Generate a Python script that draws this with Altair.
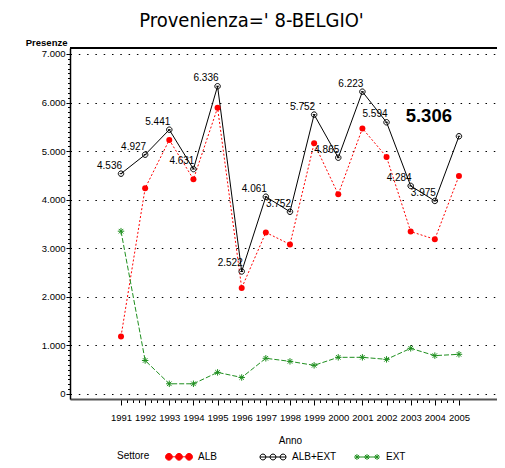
import altair as alt
import pandas as pd

# ---- data ----
years = list(range(1991, 2006))
alb = [1184, 4237, 5231, 4421, 5891, 2182, 3326, 3080, 5162, 4110, 5468, 4881, 3344, 3185, 4489]
alb_ext = [4536, 4927, 5441, 4631, 6336, 2522, 4061, 3752, 5752, 4865, 6223, 5594, 4284, 3975, 5306]
ext = [3352, 690, 210, 210, 445, 340, 735, 672, 590, 755, 755, 713, 940, 790, 817]
series_names = ["ALB", "ALB+EXT", "EXT"]
series_colors = ["#ff0000", "#000000", "#1f8f1f"]

rows = []
for name, vals in zip(series_names, [alb, alb_ext, ext]):
    for yr, v in zip(years, vals):
        rows.append({"Anno": yr, "Presenze": v, "Settore": name})
df = pd.DataFrame(rows)

NARROW = "Liberation Sans, Arial, sans-serif"
SANS = "Liberation Sans, Arial, sans-serif"

# ---- symbols ----
def circ(cx, r):
    return f"M{cx - r},0A{r},{r} 0 1,0 {cx + r},0A{r},{r} 0 1,0 {cx - r},0Z"

def aster(cx, r):
    d = r * 0.7
    return (f"M{cx - r},0L{cx + r},0M{cx},{-r}L{cx},{r}"
            f"M{cx - d},{-d}L{cx + d},{d}M{cx - d},{d}L{cx + d},{-d}")

marker_circle = circ(0, 1) + "M-0.5,0L0.5,0"
marker_aster = aster(0, 1)

sp = 1.55
leg_alb = "".join(circ(c, 0.52) for c in (-sp, 0, sp)) + f"M{-sp},0L{sp},0"
leg_tot = "".join(circ(c, 0.45) for c in (-sp, 0, sp)) + f"M{-sp - 0.45},0L{sp + 0.45},0"
leg_ext = "".join(aster(c, 0.45) for c in (-sp, 0, sp)) + f"M{-sp},0L{sp},0"

# ---- scales / axes ----
xscale = alt.Scale(domain=[1988.887, 2006.576], nice=False, zero=False)
yscale = alt.Scale(domain=[-103, 7123], nice=False, zero=False)

x_ticks = [1991 + 0.25 * i for i in range(57)]
y_ticks = list(range(0, 7001, 100))

xaxis = alt.Axis(
    values=x_ticks,
    labelExpr="datum.value % 1 === 0 ? format(datum.value, 'd') : ''",
    labelOverlap=False, labelFlush=False,
    tickSize={"condition": {"test": "datum.value % 1 === 0", "value": 6}, "value": 3.5},
    tickColor="#000", tickWidth=1,
    domainColor="#555", domainWidth=2,
    grid=False,
    labelFont=NARROW, labelFontSize=9.5, labelColor="#000",
    labelBaseline="alphabetic", labelPadding=15,
    title="Anno", titleFont=NARROW, titleFontSize=10, titleFontWeight="normal",
    titleColor="#000", titleX=220, titleY=44, titleBaseline="alphabetic",
)
yaxis = alt.Axis(
    values=y_ticks,
    labelExpr="datum.value % 1000 === 0 ? replace(format(datum.value, ',d'), ',', '.') : ''",
    labelOverlap=False, labelFlush=False,
    tickSize={"condition": {"test": "datum.value % 1000 === 0", "value": 4}, "value": 2.5},
    tickColor="#000", tickWidth=1,
    domainColor="#000", domainWidth=1.5,
    grid=True,
    gridOpacity={"condition": {"test": "datum.value % 1000 === 0", "value": 1}, "value": 0},
    gridColor="#000", gridDash=[1.5, 6.8], gridWidth=1.2,
    labelFont=NARROW, labelFontSize=9.5, labelColor="#000", labelPadding=1,
    title="Presenze", titleFont=NARROW, titleFontSize=9.5, titleFontWeight="bold",
    titleColor="#000", titleAngle=0, titleAlign="right", titleBaseline="alphabetic",
    titleX=-3, titleY=-3,
)

X = alt.X("Anno:Q", scale=xscale, axis=xaxis)
Y = alt.Y("Presenze:Q", scale=yscale, axis=yaxis)

base = alt.Chart(df)

def sel(name):
    return base.transform_filter(alt.datum.Settore == name)

frame = base.mark_rule(color="#000", strokeWidth=1.5).encode(
    y=alt.Y(datum=7123, scale=yscale, axis=yaxis)
)

line_alb = sel("ALB").mark_line(color=series_colors[0], strokeWidth=1, strokeDash=[2, 2]).encode(x=X, y=Y)
line_tot = sel("ALB+EXT").mark_line(color=series_colors[1], strokeWidth=1).encode(x=X, y=Y)
line_ext = sel("EXT").mark_line(color=series_colors[2], strokeWidth=1, strokeDash=[5, 2]).encode(x=X, y=Y)

pts_alb = sel("ALB").mark_point(shape="circle", filled=True, size=36, color=series_colors[0], opacity=1).encode(x=X, y=Y)
pts_tot = sel("ALB+EXT").mark_point(shape=marker_circle, filled=False, size=30, color=series_colors[1],
                                    strokeWidth=1, opacity=1).encode(x=X, y=Y)
pts_ext = sel("EXT").mark_point(shape=marker_aster, filled=False, size=42, color=series_colors[2],
                                strokeWidth=1, opacity=1).encode(x=X, y=Y)

labels = (
    sel("ALB+EXT")
    .transform_filter(alt.datum.Anno < 2005)
    .transform_calculate(lbl="replace(format(datum.Presenze, ',d'), ',', '.')")
    .mark_text(align="right", baseline="alphabetic", dx=1, dy=-5, font=SANS, fontSize=10, color="#000")
    .encode(x=X, y=Y, text="lbl:N")
)
big_label = (
    sel("ALB+EXT")
    .transform_filter(alt.datum.Anno == 2005)
    .transform_calculate(lbl="replace(format(datum.Presenze, ',d'), ',', '.')")
    .mark_text(align="right", baseline="alphabetic", dx=-7, dy=-14, font=SANS, fontSize=18.5,
               fontWeight="bold", color="#000")
    .encode(x=X, y=Y, text="lbl:N")
)

leg = alt.Legend(
    title="Settore", orient="none", legendX=47, legendY=401.5, direction="horizontal",
    columns=3, gridAlign="all", titleOrient="left", titleBaseline="middle", titleAnchor="middle",
    titleFont=NARROW, titleFontSize=10, titleFontWeight="normal", titleColor="#000", titlePadding=22,
    labelFont=NARROW, labelFontSize=10, labelColor="#000", labelOffset=12,
    symbolSize=169, symbolStrokeWidth=1, columnPadding=14, padding=0,
)
legend_layer = base.mark_point(size=169, strokeWidth=1, opacity=1).encode(
    fill=alt.Fill("Settore:N", scale=alt.Scale(domain=series_names,
                                               range=[series_colors[0], "transparent", "transparent"]), legend=leg),
    stroke=alt.Stroke("Settore:N", scale=alt.Scale(domain=series_names, range=series_colors), legend=leg),
    shape=alt.Shape("Settore:N", scale=alt.Scale(domain=series_names, range=[leg_alb, leg_tot, leg_ext]), legend=leg),
).transform_filter("false")

chart = alt.layer(
    frame, line_alb, line_tot, line_ext, pts_alb, pts_tot, pts_ext, labels, big_label, legend_layer
).properties(
    width=427, height=351,
    title=alt.TitleParams("Provenienza=' 8-BELGIO'", font="DejaVu Sans Condensed", fontSize=20,
                          fontWeight="normal", color="#000", anchor="middle", dx=-32, offset=6),
    autosize=alt.AutoSizeParams(type="none"),
    padding={"left": 62, "top": 40, "right": 0, "bottom": 65},
).configure_view(stroke=None).configure(background="white")

chart.save("out.html", embed_options={"renderer": "svg", "actions": False})
